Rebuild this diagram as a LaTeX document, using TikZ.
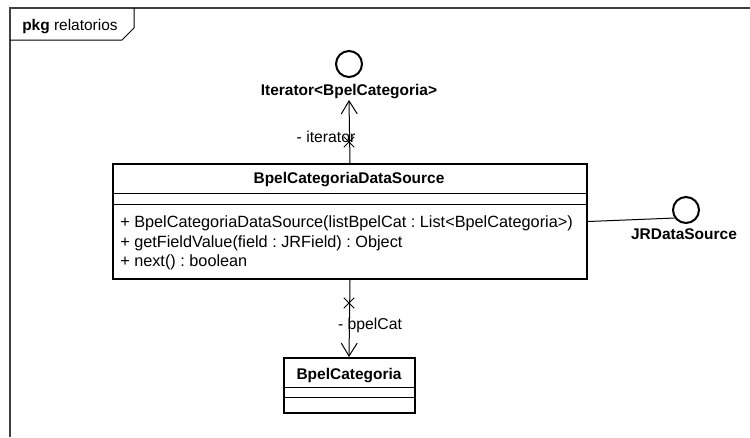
\documentclass[tikz,border=0pt]{standalone}
\usepackage{fontspec}
\setmainfont{Liberation Sans}
\usepackage{tikz}
\usetikzlibrary{arrows.meta}
\usetikzlibrary{shapes.misc}
\frenchspacing

\begin{document}
\begin{tikzpicture}[x=0.75pt, y=-0.75pt,
        frameline/.style={draw=black!75, line width=1.4pt},
        classbox/.style={rectangle, draw, line width=1.5pt, inner sep=0pt},
        divider/.style={line width=0.75pt},
        classname/.style={font=\fontsize{11.6}{14}\selectfont\bfseries, inner sep=0pt, anchor=base},
        member/.style={font=\fontsize{12.2}{14.6}\selectfont, inner sep=0pt, anchor=base west},
        rolelbl/.style={font=\fontsize{11.8}{14}\selectfont, inner sep=0pt, anchor=base},
        iface/.style={circle, draw, line width=1.5pt, minimum size=19.5pt, inner sep=0pt},
        xmark/.style={cross out, draw, line width=0.75pt, minimum size=7pt, inner sep=0pt},
        navarrow/.style={line width=0.75pt, -{Straight Barb[length=9.75pt, width=12pt]}},
        realize/.style={line width=0.75pt}]
        \useasboundingbox (0,0) rectangle (750,437);

        % Frame
        \draw[frameline] (10,437) -- (10,8) -- (750,8);
        \draw[line width=0.75pt] (10,40) -- (122,40) -- (134,28) -- (134,8);
        \node[anchor=base west, inner sep=0pt, font=\fontsize{11.6}{14}\selectfont] (pkglbl) at (22,30.5) {\textbf{pkg} relatorios};

        % Nodes
        \node[classbox, minimum width=355.5pt, minimum height=86.25pt, anchor=north west] (ds) at (112,163) {};
        \node[classname] (dsname) at (349,183.5) {BpelCategoriaDataSource};
        \draw[divider] ([yshift=-22.5pt]ds.north west) -- ([yshift=-22.5pt]ds.north east);
        \draw[divider] ([yshift=-30.75pt]ds.north west) -- ([yshift=-30.75pt]ds.north east);
        \node[member] (dsop1) at (120,227.5) {+ BpelCategoriaDataSource(listBpelCat : List<BpelCategoria>)};
        \node[member] (dsop2) at (120,247) {+ getFieldValue(field : JRField) : Object};
        \node[member] (dsop3) at (120,266.5) {+ next() : boolean};

        \node[classbox, minimum width=98.25pt, minimum height=41.25pt, anchor=north] (cat) at (349,357) {};
        \node[classname] (catname) at (349,379.5) {BpelCategoria};
        \draw[divider] ([yshift=-22.5pt]cat.north west) -- ([yshift=-22.5pt]cat.north east);
        \draw[divider] ([yshift=-30pt]cat.north west) -- ([yshift=-30pt]cat.north east);

        \node[iface] (iter) at (349,64) {};
        \node[classname] (iterlbl) at (349,95.5) {Iterator<BpelCategoria>};
        \coordinate (itertip) at (349,100);

        \node[iface] (jrds) at (686,210) {};
        \node[classname] (jrdslbl) at (684,239.5) {JRDataSource};

        % Lines
        \draw[navarrow] (ds.north) -- (itertip);
        \node[xmark] (itx) at (349,142) {};
        \node[rolelbl] (itrole) at (326,142.5) {- iterator};

        \draw[navarrow] (ds.south) -- (cat.north);
        \node[xmark] (catx) at (349,303) {};
        \node[rolelbl] (catrole) at (370,329.5) {- bpelCat};

        \draw[realize] (ds.east) -- (jrds.215);
    \end{tikzpicture}
\end{document}
